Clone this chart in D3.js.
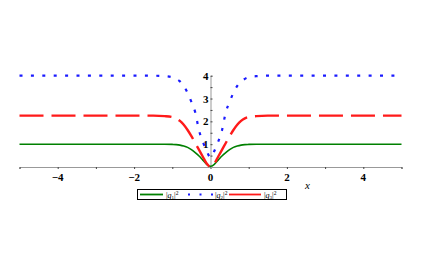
<!DOCTYPE html>
<html>
<head>
<meta charset="utf-8">
<script src="https://cdn.jsdelivr.net/npm/d3@7"></script>
<style>
body { margin: 0; background: #fff; }
text { font-family: "Liberation Serif", "DejaVu Serif", serif; }
</style>
</head>
<body>
<svg width="436" height="273"></svg>
<script>
// x positions and the three |q|^2 curves
const xs = [-5, -1.5, -1.2, -1.0, -0.9, -0.8, -0.7, -0.6, -0.5, -0.4, -0.3, -0.2, -0.1, 0,
            0.1, 0.2, 0.3, 0.4, 0.5, 0.6, 0.7, 0.8, 0.9, 1.0, 1.2, 1.5, 5];
const q1 = [1, 1, 1, 0.99, 0.98, 0.96, 0.92, 0.86, 0.76, 0.63, 0.48, 0.3, 0.12, 0.03,
            0.12, 0.3, 0.48, 0.63, 0.76, 0.86, 0.92, 0.96, 0.98, 0.99, 1, 1, 1];
const q2 = [4, 4, 3.98, 3.93, 3.86, 3.75, 3.55, 3.25, 2.85, 2.4, 1.6, 1.1, 0.7, 0.42,
            0.7, 1.1, 1.6, 2.4, 2.85, 3.25, 3.55, 3.75, 3.86, 3.93, 3.98, 4, 4];
const q3 = [2.25, 2.25, 2.23, 2.19, 2.13, 2.02, 1.85, 1.62, 1.35, 1.05, 0.75, 0.45, 0.15, 0,
            0.15, 0.45, 0.75, 1.05, 1.35, 1.62, 1.85, 2.02, 2.13, 2.19, 2.23, 2.25, 2.25];
const xTicks = [-4, -2, 0, 2, 4];
const yTicks = [1, 2, 3, 4];

const svg = d3.select("svg");
const x = d3.scaleLinear().domain([-5, 5]).range([19.5, 401.5]);
const y = d3.scaleLinear().domain([0, 4]).range([167, 75.7]);

// axes
const xAxis = svg.append("g").attr("transform", `translate(0,${y(0)})`)
    .call(d3.axisBottom(x).tickValues(d3.range(-5, 6, 1)).tickSize(2).tickFormat(""));
xAxis.select(".domain").attr("stroke", "#999");
xAxis.selectAll(".tick line").attr("stroke", "#444");
svg.append("g").selectAll("text").data(xTicks).enter().append("text")
    .attr("x", d => x(d)).attr("y", 181)
    .attr("text-anchor", "middle")
    .style("font-size", "11px").style("font-weight", "bold")
    .text(d => d < 0 ? "\u2212" + Math.abs(d) : d);

const yAxis = svg.append("g").attr("transform", `translate(${x(0)},0)`)
    .call(d3.axisRight(y).tickValues(d3.range(0.5, 4.01, 0.5)).tickSize(2).tickFormat(""));
yAxis.select(".domain").attr("stroke", "#999");
yAxis.selectAll(".tick line").attr("stroke", "#444");
svg.append("g").selectAll("text").data(yTicks).enter().append("text")
    .attr("x", x(0) - 2).attr("y", d => y(d) + 4)
    .attr("text-anchor", "end")
    .style("font-size", "11px").style("font-weight", "bold")
    .text(d => d);

svg.append("text").attr("x", 305).attr("y", 189)
    .style("font-size", "11px").style("font-style", "italic").text("x");

// curves
const line = d3.line().x((d, i) => x(xs[i])).y(d => y(d)).curve(d3.curveMonotoneX);
const series = [
    { values: q1, color: "#008000", width: 1.6, dash: null },
    { values: q2, color: "#1a1aff", width: 2.2, dash: "3,8.4" },
    { values: q3, color: "#ff1a1a", width: 2.4, dash: "24,8" }
];
svg.append("g").selectAll("path").data(series).enter().append("path")
    .attr("d", d => line(d.values))
    .attr("fill", "none")
    .attr("stroke", d => d.color)
    .attr("stroke-width", d => d.width)
    .attr("stroke-dasharray", d => d.dash);

// legend
const leg = svg.append("g");
leg.append("rect").attr("x", 137.5).attr("y", 189.5).attr("width", 149).attr("height", 10)
    .attr("fill", "#fff").attr("stroke", "#000").attr("stroke-width", 1);
const legItems = [
    { x0: 140, x1: 163, tx: 166, sub: "1", dash: null, s: series[0] },
    { x0: 188, x1: 213, tx: 215, sub: "2", dash: "2,9.5", s: series[1] },
    { x0: 229, x1: 261, tx: 264, sub: "3", dash: null, s: series[2] }
];
legItems.forEach(d => {
    leg.append("line").attr("x1", d.x0).attr("x2", d.x1).attr("y1", 194.5).attr("y2", 194.5)
        .attr("stroke", d.s.color).attr("stroke-width", 1.8)
        .attr("stroke-dasharray", d.dash);
    const t = leg.append("text").attr("x", d.tx).attr("y", 197.5).style("font-size", "8px");
    t.append("tspan").text("|");
    t.append("tspan").style("font-style", "italic").text("q");
    t.append("tspan").attr("dy", 1.5).style("font-size", "5px").text(d.sub);
    t.append("tspan").attr("dy", -1.5).text("|");
    t.append("tspan").attr("dy", -3).style("font-size", "5.5px").text("2");
});
</script>
</body>
</html>
